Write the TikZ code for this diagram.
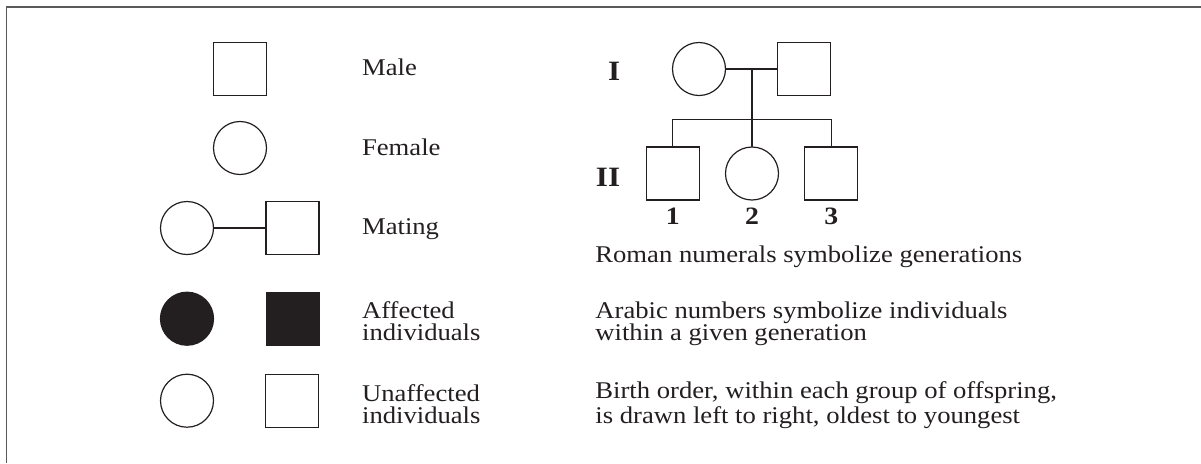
\documentclass[tikz,border=0pt]{standalone}
\usepackage{fontspec}
\setmainfont{Liberation Serif}[FakeStretch=1.11]
\definecolor{ink}{HTML}{231F20}
\definecolor{framecol}{HTML}{5A5A5A}
\begin{document}
\begin{tikzpicture}[x=0.5pt,y=-0.5pt,
  sym/.style={draw=ink, line width=0.6pt, minimum size=26.5pt, inner sep=0pt, outer sep=0pt},
  sq/.style={sym, rectangle},
  ci/.style={sym, circle},
  aff/.style={fill=ink},
  lbl/.style={anchor=base west, inner sep=0pt, align=left, font=\fontsize{12}{11}\selectfont, text=ink},
  gen/.style={anchor=base east, inner sep=0pt, text=ink, font=\fontsize{14}{14}\selectfont\bfseries},
  num/.style={anchor=base, inner sep=0pt, text=ink, font=\fontsize{12.5}{13}\selectfont\bfseries},
  link/.style={draw=ink, line width=0.7pt}
]
\useasboundingbox (0,0) rectangle (1201,463);
% frame
\draw[framecol, line width=0.8pt] (6.5,463) -- (6.5,6.7) -- (1201,6.7);

% legend symbols
\node[sq] (male) at (240,69) {};
\node[ci] (female) at (240,148) {};
\node[ci] (mc) at (187,228) {};
\node[sq] (ms) at (292.5,228) {};
\draw[link, line width=0.6pt] (mc.east) -- (ms.west);
\node[ci, aff] (ac) at (187,318.7) {};
\node[sq, aff] (as) at (293,318.7) {};
\node[ci] (uc) at (187,400.7) {};
\node[sq] (us) at (292,400.8) {};

% legend texts (base = last line)
\node[lbl] (tmale) at (361.7,75) {Male};
\node[lbl] (tfemale) at (361.7,155) {Female};
\node[lbl] (tmating) at (361.7,234) {Mating};
\node[lbl] (taff) at (361.7,340) {Affected\\individuals};
\node[lbl] (tunaff) at (361.7,423) {Unaffected\\individuals};

% pedigree
\node[gen] (g1) at (620.5,80.7) {I};
\node[gen] (g2) at (620.5,186) {II};
\node[ci] (p1) at (699,69) {};
\node[sq] (p2) at (804.3,69) {};
\node[sq] (c1) at (672.7,173.5) {};
\node[ci] (c2) at (752,173.5) {};
\node[sq] (c3) at (831.3,173.5) {};
\coordinate (mid) at (752,69);
\coordinate (sib) at (752,119.3);
\draw[link] (p1.east) -- (p2.west);
\draw[link] (mid) -- (sib);
\draw[link] (c1.north) |- (sib) -| (c3.north);
\draw[link] (sib) -- (c2.north);
\node[num] (n1) at (672.7,224) {1};
\node[num] (n2) at (752,224) {2};
\node[num] (n3) at (831.3,224) {3};

% explanations
\node[lbl] (troman) at (595,262) {Roman numerals symbolize generations};
\node[lbl] (tarabic) at (595,340) {Arabic numbers symbolize individuals\\within a given generation};
\node[lbl] (tbirth) at (595,423) {Birth order, within each group of offspring,\\is drawn left to right, oldest to youngest};
\end{tikzpicture}
\end{document}
